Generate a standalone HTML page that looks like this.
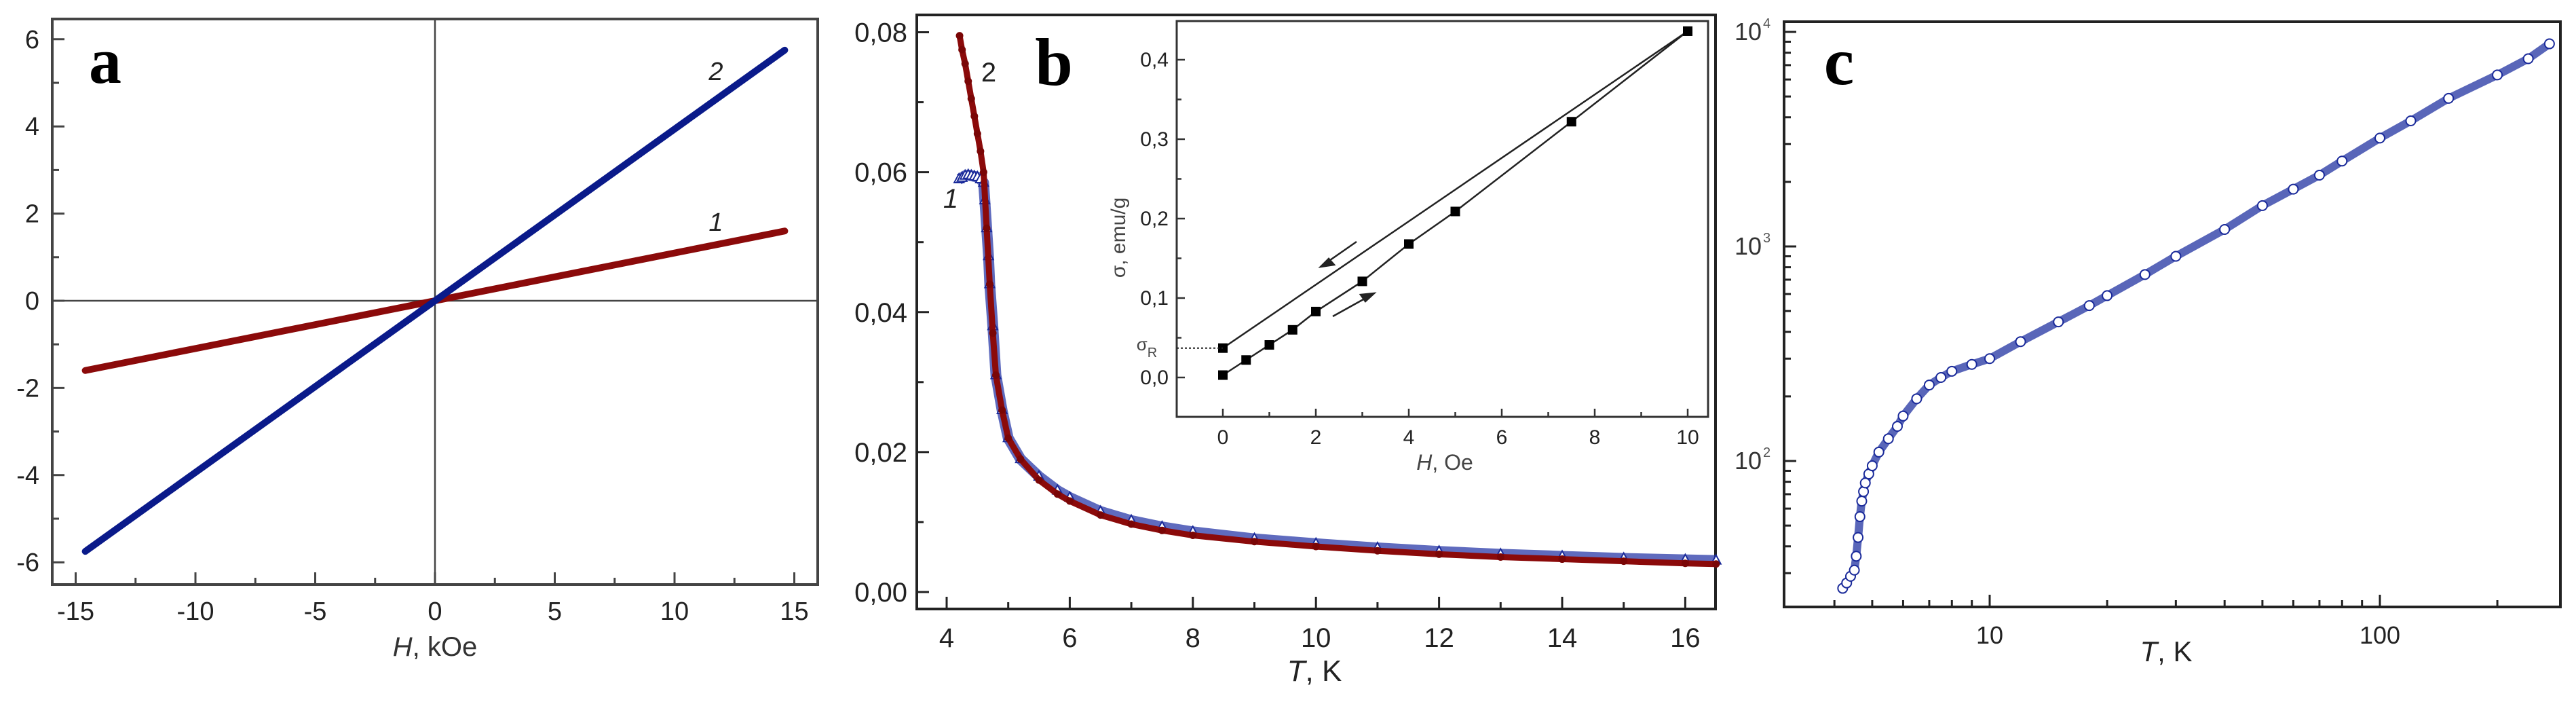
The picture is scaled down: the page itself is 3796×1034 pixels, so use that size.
<!DOCTYPE html>
<html><head><meta charset="utf-8">
<style>
html,body{margin:0;padding:0;background:#fff;}
svg{display:block;font-family:"Liberation Sans",sans-serif;}
</style></head>
<body>
<svg id="fig" width="3796" height="1034" viewBox="0 0 3796 1034" xmlns="http://www.w3.org/2000/svg"></svg>
<script>
// ---- Panel a data ----
const aFieldKOe = [-14.6, 14.6];
const aCurve1 = [-1.6, 1.6];
const aCurve2 = [-5.75, 5.75];
const aXTicks = [-15, -10, -5, 0, 5, 10, 15];
const aYTicks = [-6, -4, -2, 0, 2, 4, 6];
// ---- Panel b data ----
const bT2 = [4.21,4.25,4.3,4.35,4.4,4.45,4.5,4.55,4.6,4.65,4.7,4.75,4.8,4.9,5.0,5.2,5.5,5.8,6.0,6.5,7.0,7.5,8.0,9.0,10.0,11.0,12.0,13.0,14.0,15.0,16.0,16.5];
const bM2 = [0.0795,0.0775,0.0755,0.073,0.0705,0.068,0.0655,0.063,0.060,0.052,0.044,0.037,0.031,0.026,0.022,0.019,0.016,0.014,0.013,0.011,0.0097,0.0088,0.0081,0.0072,0.0065,0.0059,0.0054,0.0050,0.0047,0.0044,0.0041,0.0040];
const bT1 = [4.2,4.25,4.3,4.35,4.4,4.45,4.5,4.55,4.6,4.62,4.65,4.68,4.7,4.75,4.8,4.9,5.0,5.2,5.5,5.8,6.0,6.5,7.0,7.5,8.0,9.0,10.0,11.0,12.0,13.0,14.0,15.0,16.0,16.5];
const bM1 = [0.0590,0.0592,0.0595,0.0596,0.0595,0.0594,0.0593,0.0590,0.0585,0.056,0.052,0.048,0.044,0.038,0.031,0.026,0.022,0.019,0.0165,0.0145,0.0135,0.0115,0.0102,0.0093,0.0086,0.0076,0.0069,0.0063,0.0058,0.0054,0.0051,0.0048,0.0046,0.0045];
const bXTicks = [4, 6, 8, 10, 12, 14, 16];
const bYTicks = [0, 0.02, 0.04, 0.06, 0.08];
const bYLabels = ["0,00","0,02","0,04","0,06","0,08"];
// inset
const inHUp = [0, 0.5, 1, 1.5, 2, 3, 4, 5, 7.5, 10];
const inSUp = [0.003, 0.022, 0.041, 0.060, 0.083, 0.121, 0.168, 0.209, 0.322, 0.436];
const inHDown = [10, 0];
const inSDown = [0.436, 0.037];
const inXTicks = [0, 2, 4, 6, 8, 10];
const inYTicks = [0, 0.1, 0.2, 0.3, 0.4];
const inYLabels = ["0,0","0,1","0,2","0,3","0,4"];
// ---- Panel c data ----
const cT = [4.2,4.3,4.4,4.5,4.55,4.6,4.65,4.7,4.75,4.8,4.9,5.0,5.2,5.5,5.8,6.0,6.5,7.0,7.5,8.0,9.0,10,12,15,18,20,25,30,40,50,60,70,80,100,120,150,200,240,272];
const cR = [25.5,27,29,31,36,44,55,65,72,79,87,95,110,127,145,162,195,226,245,262,282,300,360,445,530,590,740,900,1200,1550,1850,2150,2500,3200,3850,4900,6300,7500,8800];
const cXTicks = [10, 100];
const cYTicks = [100, 1000, 10000];
const cYExp = ["2","3","4"];

const svg = document.getElementById('fig');
const NS = 'http://www.w3.org/2000/svg';
function mk(tag, attrs, parent){
  const e = document.createElementNS(NS, tag);
  for (const k in attrs) e.setAttribute(k, attrs[k]);
  (parent||svg).appendChild(e);
  return e;
}
function txt(str, x, y, size, anchor, parent, extra){
  const t = mk('text', {x:x, y:y, 'font-size':size, 'text-anchor':anchor||'middle', fill:'#222'}, parent);
  if (extra) for (const k in extra) t.setAttribute(k, extra[k]);
  t.textContent = str;
  return t;
}

// ================= PANEL A =================
const gA = mk('g', {});


const ax = h => 641 + h*35.3;
const ay = v => 443 - v*64.2;
const frameA = mk('rect', {x:77, y:28, width:1128, height:833, fill:'none', stroke:'#444', 'stroke-width':4}, gA);


mk('line', {x1:77, y1:ay(0), x2:1205, y2:ay(0), stroke:'#444', 'stroke-width':2.5}, gA);
mk('line', {x1:ax(0), y1:28, x2:ax(0), y2:861, stroke:'#444', 'stroke-width':2.5}, gA);
for (let v=-15; v<=15; v+=2.5){
  const major = aXTicks.includes(v);
  mk('line', {x1:ax(v), y1:861, x2:ax(v), y2:861-(major?18:10), stroke:'#444', 'stroke-width':3}, gA);
}
aXTicks.forEach(v=>{
  const t = txt(String(v), ax(v), 913, 38, 'middle', gA);
  
  
});
for (let v=-6; v<=6; v+=1){
  const major = aYTicks.includes(v);
  mk('line', {x1:77, y1:ay(v), x2:77+(major?18:10), y2:ay(v), stroke:'#444', 'stroke-width':3}, gA);
}
aYTicks.forEach(v=>{
  const t = txt(String(v), 58, ay(v)+13, 38, 'end', gA);
  
  
});
const la1 = mk('line', {x1:ax(aFieldKOe[0]), y1:ay(aCurve1[0]), x2:ax(aFieldKOe[1]), y2:ay(aCurve1[1]), stroke:'#8b0a0a', 'stroke-width':10, 'stroke-linecap':'round'}, gA);


const la2 = mk('line', {x1:ax(aFieldKOe[0]), y1:ay(aCurve2[0]), x2:ax(aFieldKOe[1]), y2:ay(aCurve2[1]), stroke:'#0a1a8a', 'stroke-width':10, 'stroke-linecap':'round'}, gA);


let t;
t = txt('2', 1055, 118, 38, 'middle', gA, {'font-style':'italic'});
 
t = txt('1', 1055, 340, 38, 'middle', gA, {'font-style':'italic'});
 
t = txt('a', 155, 122, 96, 'middle', gA, {'font-family':'"Liberation Serif",serif', 'font-weight':'bold', fill:'#000'});
 
t = mk('text', {x:641, y:966, 'font-size':40, 'text-anchor':'middle', fill:'#333'}, gA);
t.innerHTML = '<tspan font-style="italic">H</tspan>, kOe';
 

// ================= PANEL B =================
const gB = mk('g', {});


const bx = T => 1395 + (T-4)*90.7;
const by = m => 872 - m*10306;
const frameB = mk('rect', {x:1351, y:22, width:1177, height:875, fill:'none', stroke:'#222', 'stroke-width':4}, gB);


for (let v=4; v<=16; v+=1){
  const major = bXTicks.includes(v);
  mk('line', {x1:bx(v), y1:897, x2:bx(v), y2:897-(major?18:10), stroke:'#222', 'stroke-width':3}, gB);
}
bXTicks.forEach(v=>{
  const tt = txt(String(v), bx(v), 953, 40, 'middle', gB);
   
});
for (let i=0;i<=8;i++){
  const v = i*0.01;
  mk('line', {x1:1351, y1:by(v), x2:1351+(i%2===0?18:10), y2:by(v), stroke:'#222', 'stroke-width':3}, gB);
}
bYTicks.forEach((v,i)=>{
  const tt = txt(bYLabels[i], 1337, by(v)+14, 40, 'end', gB);
   
});
const p1 = mk('polyline', {points: bT1.map((T,i)=>bx(T)+','+by(bM1[i])).join(' '), fill:'none', stroke:'#2a3aa8', 'stroke-width':16, 'stroke-linejoin':'round', opacity:0.75}, gB);


bT1.forEach((T,i)=>{
  const x=bx(T), y=by(bM1[i]);
  const m = mk('path', {d:`M${x-7},${y+5} L${x},${y-8} L${x+7},${y+5} Z`, fill:'#fff', stroke:'#1a2a9a', 'stroke-width':2}, gB);
  
  
});
const p2 = mk('polyline', {points: bT2.map((T,i)=>bx(T)+','+by(bM2[i])).join(' '), fill:'none', stroke:'#8b0a0a', 'stroke-width':9, 'stroke-linejoin':'round'}, gB);


bT2.forEach((T,i)=>{
  const c = mk('circle', {cx:bx(T), cy:by(bM2[i]), r:5.5, fill:'#7a0606'}, gB);
  
  
});
t = txt('2', 1457, 120, 40, 'middle', gB);
 
t = txt('1', 1401, 306, 40, 'middle', gB, {'font-style':'italic'});
 
t = txt('b', 1553, 125, 100, 'middle', gB, {'font-family':'"Liberation Serif",serif', 'font-weight':'bold', fill:'#000'});
 
t = mk('text', {x:1937, y:1003, 'font-size':44, 'text-anchor':'middle', fill:'#222'}, gB);
t.innerHTML = '<tspan font-style="italic">T</tspan>, K';
 

// ---- inset ----
const gI = mk('g', {}, gB);


const ix = h => 1802 + h*68.5;
const iy = s => 556 - s*1170;
const frameI = mk('rect', {x:1734, y:31, width:783, height:583, fill:'#fff', stroke:'#333', 'stroke-width':3}, gI);


for (let v=0; v<=10; v+=1){
  const major = v%2===0;
  mk('line', {x1:ix(v), y1:614, x2:ix(v), y2:614-(major?12:7), stroke:'#333', 'stroke-width':2.5}, gI);
}
inXTicks.forEach(v=>{
  const tt = txt(String(v), ix(v), 654, 30, 'middle', gI);
   
});
for (let i=0;i<=8;i++){
  const v=i*0.05;
  mk('line', {x1:1734, y1:iy(v), x2:1734+(i%2===0?12:7), y2:iy(v), stroke:'#333', 'stroke-width':2.5}, gI);
}
inYTicks.forEach((v,i)=>{
  const tt = txt(inYLabels[i], 1722, iy(v)+10, 30, 'end', gI);
   
});
const up = mk('polyline', {points: inHUp.map((h,i)=>ix(h)+','+iy(inSUp[i])).join(' '), fill:'none', stroke:'#222', 'stroke-width':2.5}, gI);


const dn = mk('polyline', {points: inHDown.map((h,i)=>ix(h)+','+iy(inSDown[i])).join(' '), fill:'none', stroke:'#222', 'stroke-width':2.5}, gI);


inHUp.forEach((h,i)=>{
  const r = mk('rect', {x:ix(h)-7, y:iy(inSUp[i])-7, width:14, height:14, fill:'#000'}, gI);
  
  
});
inHDown.forEach((h,i)=>{
  const r = mk('rect', {x:ix(h)-7, y:iy(inSDown[i])-7, width:14, height:14, fill:'#000'}, gI);
  
  
});
const dot = mk('line', {x1:1734, y1:iy(inSDown[1]), x2:ix(0), y2:iy(inSDown[1]), stroke:'#222', 'stroke-width':2, 'stroke-dasharray':'3,3'}, gI);


const ar1 = mk('path', {d:'M1999,356 L1953,388 M1946,393 l20,-3 l-8,-9 z', stroke:'#222', 'stroke-width':2.5, fill:'#222'}, gI);
 
const ar2 = mk('path', {d:'M1964,466 L2018,436 M2025,432 l-20,2 l7,10 z', stroke:'#222', 'stroke-width':2.5, fill:'#222'}, gI);
 
t = mk('text', {x:1690, y:516, 'font-size':26, 'text-anchor':'middle', fill:'#444'}, gI);
t.innerHTML = 'σ<tspan font-size="20" dy="10">R</tspan>';
 
t = mk('text', {x:0, y:0, 'font-size':30, 'text-anchor':'middle', fill:'#444', transform:'translate(1658,350) rotate(-90)'}, gI);
t.textContent = 'σ, emu/g';
 
t = mk('text', {x:2129, y:692, 'font-size':32, 'text-anchor':'middle', fill:'#444'}, gI);
t.innerHTML = '<tspan font-style="italic">H</tspan>, Oe';
 

// ================= PANEL C =================
const gC = mk('g', {});


const cx = T => 2932 + (Math.log10(T)-1)*575;
const cy = R => 679 - (Math.log10(R)-2)*316;
const frameC = mk('rect', {x:2629, y:32, width:1144, height:862, fill:'none', stroke:'#222', 'stroke-width':4}, gC);


[4,5,6,7,8,9,10,20,30,40,50,60,70,80,90,100,200].forEach(v=>{
  const major = cXTicks.includes(v);
  mk('line', {x1:cx(v), y1:894, x2:cx(v), y2:894-(major?18:10), stroke:'#222', 'stroke-width':3}, gC);
});
cXTicks.forEach(v=>{
  const tt = txt(String(v), cx(v), 948, 36, 'middle', gC);
   
});
[20,30,40,50,60,70,80,90,100,200,300,400,500,600,700,800,900,1000,2000,3000,4000,5000,6000,7000,8000,9000,10000].forEach(v=>{
  const major = cYTicks.includes(v);
  const y = cy(v);
  if (y < 32 || y > 894) return;
  mk('line', {x1:2629, y1:y, x2:2629+(major?18:10), y2:y, stroke:'#222', 'stroke-width':3}, gC);
});
cYTicks.forEach((v,i)=>{
  const tt = mk('text', {x:2596, y:cy(v)+12, 'font-size':36, 'text-anchor':'end', fill:'#333'}, gC);
  tt.textContent = '10';
   
  const ex = mk('text', {x:2598, y:cy(v)-6, 'font-size':20, 'text-anchor':'start', fill:'#555'}, gC);
  ex.textContent = cYExp[i];
   
});
const pc = mk('polyline', {points: cT.map((T,i)=>cx(T)+','+cy(cR[i])).join(' '), fill:'none', stroke:'#3040a8', 'stroke-width':12, 'stroke-linejoin':'round', opacity:0.8}, gC);


cT.forEach((T,i)=>{
  const c = mk('circle', {cx:cx(T), cy:cy(cR[i]), r:7, fill:'#fff', stroke:'#1a2a9a', 'stroke-width':2}, gC);
  
  
});
t = txt('c', 2710, 124, 100, 'middle', gC, {'font-family':'"Liberation Serif",serif', 'font-weight':'bold', fill:'#000'});
 
t = mk('text', {x:3192, y:974, 'font-size':42, 'text-anchor':'middle', fill:'#222'}, gC);
t.innerHTML = '<tspan font-style="italic">T</tspan>, K';
 
</script>
</body></html>
